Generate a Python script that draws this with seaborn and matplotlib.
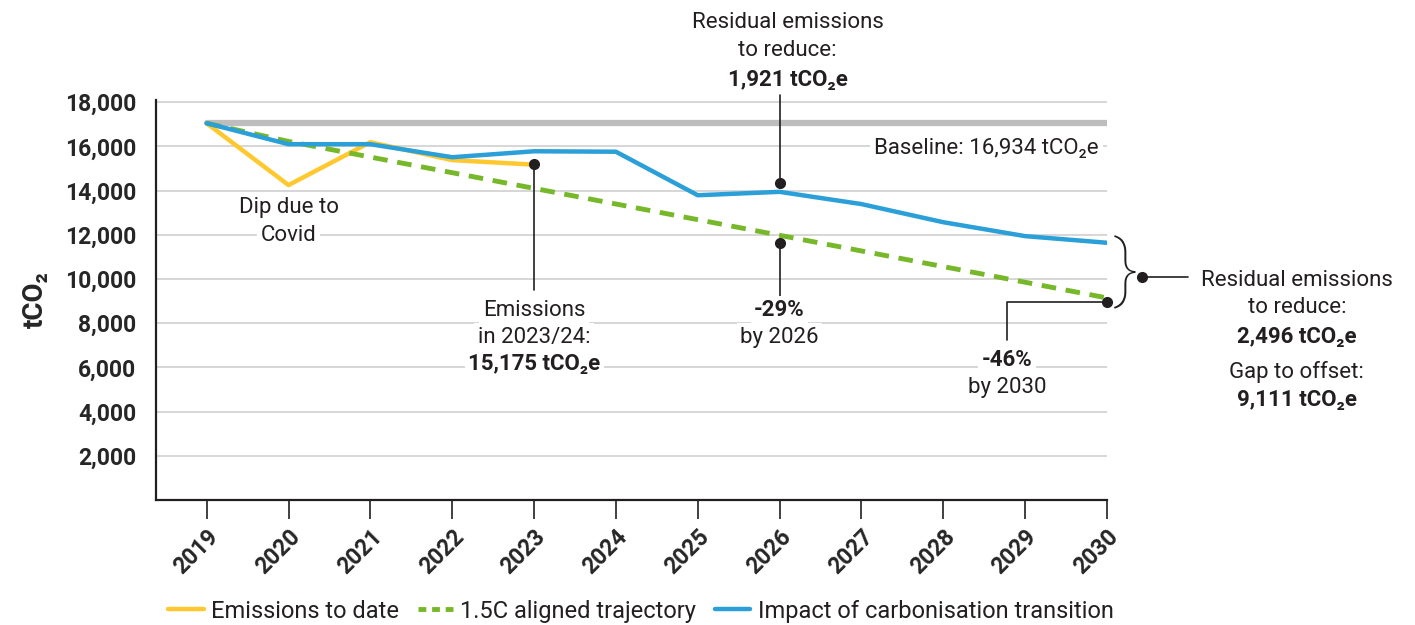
import matplotlib
matplotlib.use("Agg")
import matplotlib.pyplot as plt
import seaborn as sns
from matplotlib.lines import Line2D

# data
years = [2019, 2020, 2021, 2022, 2023, 2024, 2025, 2026, 2027, 2028, 2029, 2030]
to_date_years = [2019, 2020, 2021, 2022, 2023]
emissions_to_date = [17050, 14250, 16190, 15380, 15175]
aligned = [17050, 16226, 15518, 14810, 14102, 13394, 12686, 11978, 11270, 10562, 9854, 9144]
transition = [17050, 16100, 16100, 15510, 15780, 15760, 13790, 13944, 13390, 12570, 11940, 11640]
baseline = 17050
y_ticks = [2000, 4000, 6000, 8000, 10000, 12000, 14000, 16000, 18000]

YELLOW = "#FFC82E"
GREEN = "#76B82A"
BLUE = "#2A9FD8"
GREY = "#BDBDBD"
INK = "#231F20"

sns.set_style("white")
plt.rcParams["font.family"] = ["Roboto", "DejaVu Sans"]
plt.rcParams["text.color"] = INK

fig = plt.figure(figsize=(14.15, 6.25), dpi=100)
ax = fig.add_axes([0.1102, 0.2, 0.6721, 0.64])

for yv in y_ticks:
    ax.axhline(yv, color="#D0D0D0", lw=1.2, zorder=0)

ax.plot([years[0], years[-1]], [baseline, baseline], color=GREY, lw=4.5,
        solid_capstyle="round", zorder=1)

sns.lineplot(x=to_date_years, y=emissions_to_date, ax=ax, color=YELLOW, lw=3.2, zorder=2)
sns.lineplot(x=years, y=aligned, ax=ax, color=GREEN, lw=3.5, zorder=3,
             linestyle=(0, (3, 2)))
sns.lineplot(x=years, y=transition, ax=ax, color=BLUE, lw=3.2, zorder=4)

ax.set_xlim(2018.38, 2030)
ax.set_ylim(0, 18100)
ax.set_xticks(years)
ax.set_xticklabels([str(y) for y in years], rotation=45, ha="right",
                   rotation_mode="anchor", fontsize=16.5, fontweight="bold")
ax.set_yticks(y_ticks)
ax.set_yticklabels([f"{v:,}" for v in y_ticks], fontsize=16.5, fontweight="bold")
ax.tick_params(axis="x", bottom=True, length=14, width=1.2, color=INK,
               direction="out", pad=4)
ax.tick_params(axis="y", length=0, pad=14)
for s in ["top", "right"]:
    ax.spines[s].set_visible(False)
for s in ["left", "bottom"]:
    ax.spines[s].set_color(INK)
    ax.spines[s].set_linewidth(1.6)
ax.set_ylabel("tCO₂", fontsize=20, fontweight="bold", labelpad=12)
ax.set_xlabel("")

fs = 16
white = dict(boxstyle="square,pad=0.15", fc="white", ec="none")


def dot(x, y):
    ax.plot([x], [y], "o", color=INK, ms=7, zorder=6, clip_on=False)


def leader(xs, ys):
    ax.plot(xs, ys, color=INK, lw=1.2, zorder=5, clip_on=False)


def txt(x, y, s, bold=False, ha="center", box=True):
    ax.text(x, y, s, ha=ha, va="center", fontsize=fs,
            fontweight="bold" if bold else "normal", zorder=7, clip_on=False,
            bbox=white if box else None)


# dip due to covid
txt(2020.0, 13250, "Dip due to")
txt(2020.0, 11990, "Covid")

# emissions in 2023/24
dot(2023.0, 15200)
leader([2023.0, 2023.0], [15200, 9500])
txt(2023.0, 8590, "Emissions")
txt(2023.0, 7370, "in 2023/24:")
txt(2023.0, 6150, "15,175 tCO₂e", bold=True)

# residual emissions 2026
txt(2026.1, 21620, "Residual emissions", box=False)
txt(2026.1, 20350, "to reduce:", box=False)
txt(2026.1, 19000, "1,921 tCO₂e", bold=True, box=False)
leader([2026.0, 2026.0], [18320, 14340])
dot(2026.0, 14340)

# -29% by 2026
dot(2026.0, 11620)
leader([2026.0, 2026.0], [11620, 9050])
txt(2026.0, 8590, "-29%", bold=True)
txt(2026.0, 7370, "by 2026")

# -46% by 2030
dot(2030.0, 8960)
leader([2030.0, 2028.78, 2028.78], [8960, 8960, 7240])
txt(2028.78, 6330, "-46%", bold=True)
txt(2028.78, 5110, "by 2030")

# baseline label
ax.text(2029.9, 15920, "Baseline: 16,934 tCO₂e", ha="right", va="center",
        fontsize=fs, zorder=7, bbox=dict(boxstyle="square,pad=0.2", fc="white", ec="none"))

# brace and right-hand note
ax.text(2030.22, 10300, "}", ha="center", va="center", fontsize=54,
        fontweight="light", color=INK, clip_on=False)
dot(2030.43, 10090)
leader([2030.43, 2030.99], [10090, 10090])
txt(2032.32, 9950, "Residual emissions", box=False)
txt(2032.32, 8720, "to reduce:", box=False)
txt(2032.32, 7370, "2,496 tCO₂e", bold=True, box=False)
txt(2032.32, 5790, "Gap to offset:", box=False)
txt(2032.32, 4520, "9,111 tCO₂e", bold=True, box=False)

handles = [
    Line2D([0], [0], color=YELLOW, lw=3.2),
    Line2D([0], [0], color=GREEN, lw=3.5, linestyle=(0, (1.6, 1.2))),
    Line2D([0], [0], color=BLUE, lw=3.2),
]
labels = ["Emissions to date", "1.5C aligned trajectory",
          "Impact of carbonisation transition"]
fig.legend(handles, labels, loc="center left", bbox_to_anchor=(0.104, 0.022),
           ncol=3, frameon=False, fontsize=17, handlelength=1.5,
           handletextpad=0.3, columnspacing=0.8)

fig.savefig("out.png", dpi=100)
